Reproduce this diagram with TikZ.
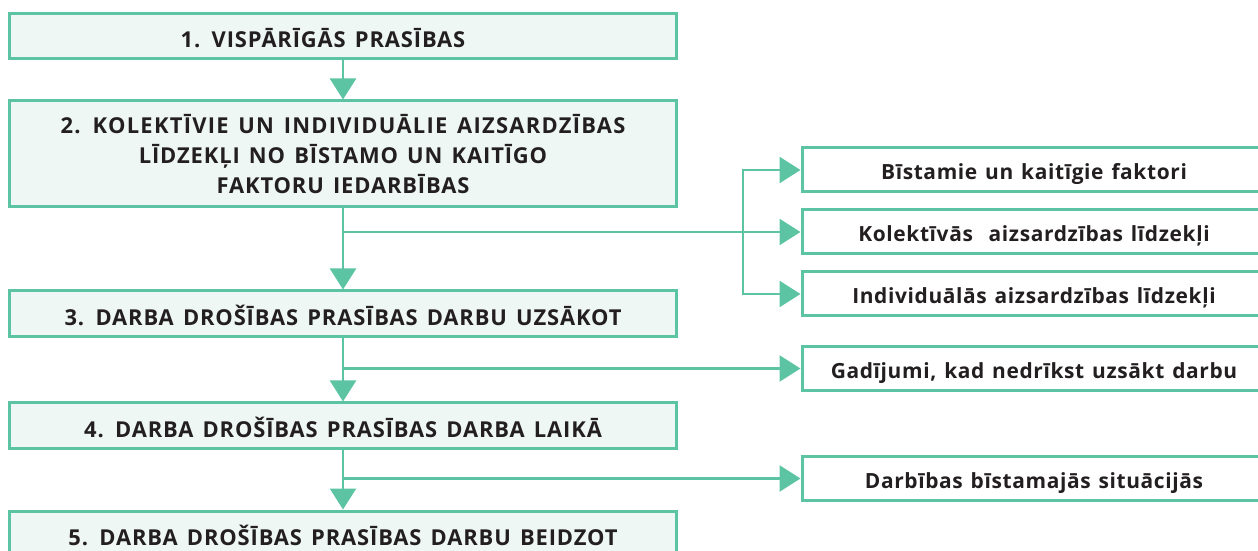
\documentclass[tikz,border=0pt]{standalone}
\usepackage{fontspec}
\setmainfont{Open Sans}
\newfontfamily\mainfnt[LetterSpace=4,WordSpace=1.4]{Open Sans}
\newfontfamily\sidefnt[LetterSpace=3,WordSpace=1.3]{Open Sans}
\usetikzlibrary{arrows.meta}
\definecolor{teal}{HTML}{5CC4A2}
\definecolor{boxfill}{HTML}{EEF7F3}
\definecolor{ink}{HTML}{231F20}
\tikzset{
  mainbase/.style={draw=teal, line width=3bp, fill=boxfill, rectangle, inner sep=0pt,
    minimum width=666bp, text=ink, font=\mainfnt\fontsize{22}{30}\selectfont\bfseries, align=center},
  mainbox/.style={mainbase, text height=23bp, text depth=0bp},
  sidebox/.style={draw=teal, line width=3bp, fill=white, rectangle, inner sep=0pt,
    minimum width=464bp, minimum height=44bp, text=ink, text height=19bp, text depth=0bp,
    font=\sidefnt\fontsize{21}{24}\selectfont\bfseries},
  conn/.style={draw=teal, line width=2.5bp, -{Triangle[width=26bp,length=21bp]}}
}
\begin{document}
\begin{tikzpicture}[x=1bp,y=-1bp]
\useasboundingbox (0,0) rectangle (1258,551);
\node[mainbox, minimum height=45bp] (b1) at (343,36.5) {1. VISPĀRĪGĀS PRASĪBAS\hspace*{40bp}};
\node[mainbase, minimum height=106bp] (b2) at (343,154) {{\addfontfeature{LetterSpace=5.8}2. KOLEKTĪVIE UN INDIVIDUĀLIE AIZSARDZĪBAS}\\ LĪDZEKĻI NO BĪSTAMO UN KAITĪGO\\ FAKTORU IEDARBĪBAS};
\node[mainbox, minimum height=46bp] (b3) at (343,314) {3. DARBA DROŠĪBAS PRASĪBAS DARBU UZSĀKOT};
\node[mainbox, minimum height=45bp] (b4) at (343,425.5) {4. DARBA DROŠĪBAS PRASĪBAS DARBA LAIKĀ};
\node[mainbox, minimum height=46bp] (b5) at (343,534) {5. DARBA DROŠĪBAS PRASĪBAS DARBU BEIDZOT};

\node[sidebox] (r1) at (1034,170) {Bīstamie un kaitīgie faktori};
\node[sidebox] (r2) at (1034,232) {Kolektīvās\ \ aizsardzības līdzekļi};
\node[sidebox] (r3) at (1034,294) {Individuālās aizsardzības līdzekļi};
\node[sidebox] (r4) at (1034,368.5) {Gadījumi, kad nedrīkst uzsākt darbu};
\node[sidebox] (r5) at (1034,478.5) {Darbības bīstamajās situācijās};

\draw[conn] (b1.south) -- (b2.north);
\draw[conn] (b2.south) -- (b3.north);
\draw[conn] (b3.south) -- (b4.north);
\draw[conn] (b4.south) -- (b5.north);

\coordinate (j2) at (b2.south |- r2.west);
\coordinate (bk) at (743,232);
\draw[conn] (j2) -- (r2.west);
\draw[conn] (bk) |- (r1.west);
\draw[conn] (bk) |- (r3.west);

\coordinate (j3) at (b3.south |- r4.west);
\draw[conn] (j3) -- (r4.west);
\coordinate (j4) at (b4.south |- r5.west);
\draw[conn] (j4) -- (r5.west);
\end{tikzpicture}
\end{document}
